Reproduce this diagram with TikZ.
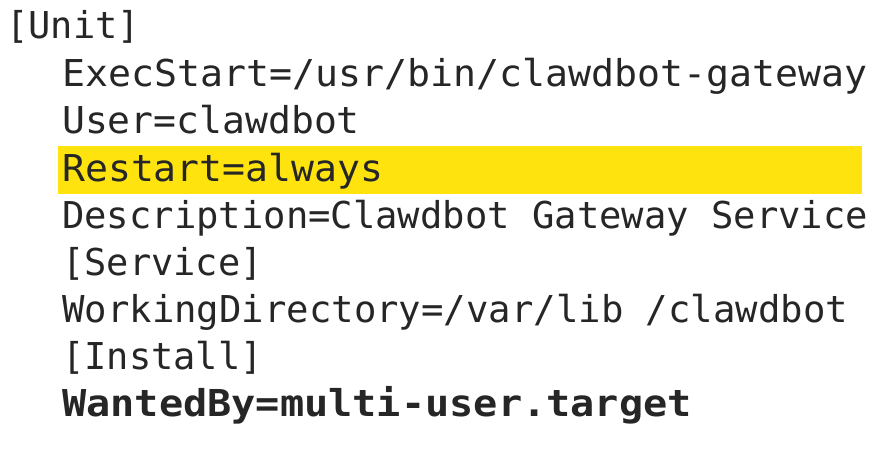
\documentclass[tikz,border=0pt]{standalone}
\usepackage{fontspec}
\usepackage{graphicx}
\setmainfont{DejaVu Sans Mono}
\begin{document}
\begin{tikzpicture}[x=1pt,y=-1pt,
  ln/.style={anchor=base west,inner sep=0pt,font=\fontsize{37}{40}\selectfont,text=black!85}]
\useasboundingbox[fill=white] (0,0) rectangle (872,448);
\fill[yellow!85!orange!95] (58,146) rectangle (862,194);
\node[ln] (u) at (6,38) {[Unit]};
\node[ln] (e) at (62,86) {\scalebox{1.033}[1]{ExecStart=/usr/bin/clawdbot-gateway}};
\node[ln] (us) at (62,133) {\scalebox{1.028}[1]{User=clawdbot}};
\node[ln] (r) at (62,181) {\scalebox{1.03}[1]{Restart=always}};
\node[ln] (d) at (62,228) {\scalebox{1.005}[1]{Description=Clawdbot Gateway Service}};
\node[ln] (s) at (62,275) {[Service]};
\node[ln] (w) at (62,322) {\scalebox{1.008}[1]{WorkingDirectory=/var/lib /clawdbot}};
\node[ln] (i) at (62,369) {[Install]};
\node[ln,font=\fontsize{37}{40}\selectfont\bfseries] (wb) at (62,416) {\scalebox{1.087}[1]{WantedBy=multi-user.target}};
\end{tikzpicture}
\end{document}
